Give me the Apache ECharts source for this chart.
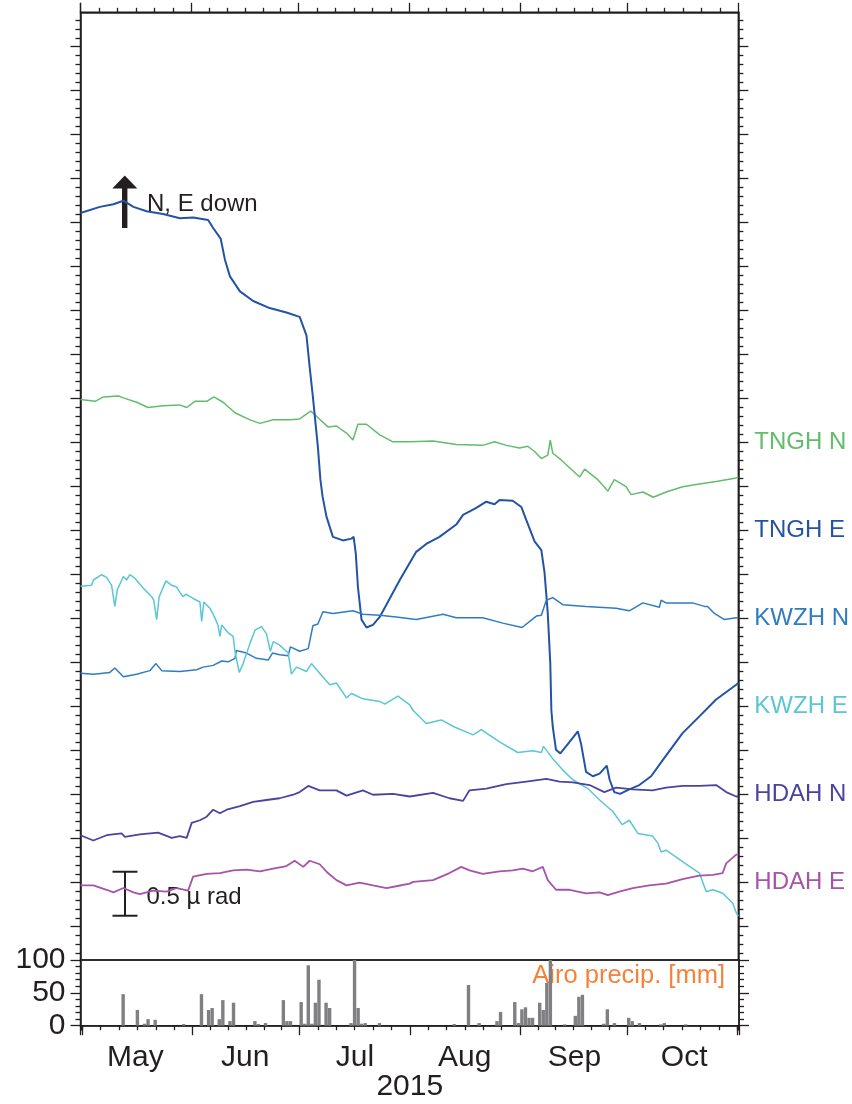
<!DOCTYPE html>
<html><head><meta charset="utf-8">
<script src="https://cdn.jsdelivr.net/npm/echarts@6/dist/echarts.min.js"></script>
<style>html,body{margin:0;padding:0;background:#fff}#c{width:852px;height:1104px}</style>
</head><body><div id="c"></div>
<script>
const FONT = '"Liberation Sans", Arial, Helvetica, sans-serif';
const INK = '#231f20';

// ---- tilt series: [days since 2015-05-01, tilt in micro-radian (offset per station)] ----
const tnghN = [[0,5.99],[4.1,5.97],[6.4,6.02],[10.6,6.03],[12,6.01],[15.7,5.96],[18.9,5.90],[23.1,5.92],[27.8,5.93],[29.7,5.90],[32,5.97],[35.3,5.97],[37.3,6.02],[39.9,5.96],[43.2,5.84],[47.4,5.76],[50.2,5.72],[53.9,5.76],[58.6,5.76],[61.3,5.77],[64.4,5.86],[66,5.80],[69.2,5.68],[71.6,5.69],[74.4,5.61],[76.2,5.53],[77.6,5.71],[80,5.71],[83.7,5.59],[87.4,5.51],[92.1,5.51],[98.6,5.52],[105.1,5.48],[112.5,5.47],[115.8,5.51],[119.1,5.47],[122.8,5.44],[125.1,5.46],[127,5.40],[128.9,5.32],[130.7,5.36],[131.4,5.53],[132.1,5.38],[134,5.32],[139.6,5.11],[141,5.20],[144.7,5.08],[147.5,4.95],[149.3,5.08],[152.6,5.00],[154,4.91],[157.3,4.94],[160.2,4.88],[163.8,4.94],[168.4,5.00],[173.1,5.03],[177.8,5.06],[183.4,5.10],[184,5.11]];
const tnghE = [[0,8.11],[5.4,8.18],[9.2,8.21],[12,8.25],[14.8,8.18],[18.5,8.13],[23.1,8.10],[27.8,8.05],[31.5,8.06],[35.7,8.03],[37.1,7.94],[39.2,7.82],[40.4,7.58],[41.8,7.39],[44.6,7.22],[48.3,7.11],[52.9,7.03],[57.6,6.98],[61.3,6.93],[63.2,6.72],[64.1,6.36],[65,6.02],[66.4,5.45],[67.1,5.08],[67.7,4.89],[68.8,4.66],[70.6,4.43],[73.4,4.39],[75.8,4.41],[76.4,4.43],[77,4.24],[77.6,3.86],[78.6,3.49],[80,3.40],[81.8,3.43],[83.7,3.52],[86.5,3.73],[89.3,3.94],[93.9,4.26],[96.7,4.35],[100.4,4.43],[105.1,4.57],[107,4.68],[110.7,4.76],[113.5,4.83],[115.8,4.80],[117.2,4.85],[120.9,4.84],[123.3,4.77],[124.7,4.62],[127,4.38],[128.9,4.28],[129.8,4.02],[130.7,3.56],[131.4,2.99],[131.7,2.46],[132.1,2.27],[133,2.01],[134.2,1.97],[136.8,2.10],[139.1,2.22],[140,2.08],[141.4,1.76],[143.3,1.71],[145.2,1.74],[147.2,1.83],[148,1.67],[149.3,1.53],[150.9,1.51],[153.5,1.56],[156.3,1.61],[159.6,1.71],[162.8,1.89],[168.4,2.20],[173.1,2.39],[177.7,2.58],[183.4,2.75],[184,2.77]];
const kwzhN = [[0,2.88],[3.7,2.87],[8.2,2.89],[9.6,2.94],[12,2.84],[15.7,2.87],[19.4,2.91],[21.1,2.99],[22.7,2.91],[27.8,2.90],[32.5,2.92],[34.3,2.95],[37.1,2.97],[39.5,3.02],[41.3,3.01],[43.2,3.05],[43.6,3.14],[46.4,3.11],[49.2,3.05],[52.5,3.03],[53.7,3.11],[55.7,3.09],[58.1,3.08],[58.7,3.18],[61.3,3.13],[63.7,3.16],[65,3.42],[66.4,3.44],[67.8,3.58],[70.6,3.56],[76.2,3.59],[79,3.55],[83.7,3.54],[88.3,3.52],[93.9,3.49],[101.4,3.55],[105.1,3.51],[112.5,3.51],[118.1,3.45],[123.5,3.40],[127.5,3.53],[128.9,3.54],[130.3,3.71],[132.1,3.74],[134.9,3.66],[141.4,3.64],[149.8,3.62],[153.5,3.59],[157.3,3.68],[161.9,3.63],[162.4,3.71],[163.8,3.68],[171.2,3.68],[174.5,3.64],[175.4,3.64],[177.3,3.56],[180.1,3.49],[183.4,3.51],[184,3.51]];
const kwzhE = [[0,3.87],[3.1,3.88],[3.6,3.94],[5.9,4.00],[7.3,3.97],[8.7,3.88],[9.6,3.64],[10.3,3.83],[12,3.98],[12.9,3.94],[13.8,4.00],[15.2,3.96],[17.5,3.85],[19.9,3.75],[20.5,3.71],[21.3,3.49],[22,3.75],[23.9,3.93],[25.5,3.88],[26.9,3.86],[27.8,3.80],[28.7,3.75],[29.5,3.78],[31.5,3.73],[33.4,3.69],[33.9,3.47],[34.5,3.69],[36.2,3.62],[37.6,3.51],[38.5,3.42],[39,3.30],[39.5,3.43],[41.3,3.34],[42.7,3.30],[43.2,3.13],[44.4,2.89],[45.5,2.99],[47.4,3.22],[48.8,3.37],[50.6,3.41],[52,3.33],[53.1,3.13],[53.9,3.24],[55.7,3.20],[58.1,3.11],[59,2.87],[60.4,2.95],[63.2,2.90],[64.6,2.99],[66.9,2.88],[69.7,2.75],[71.6,2.77],[74.4,2.60],[75.8,2.65],[79,2.59],[83.7,2.56],[85.1,2.53],[88.8,2.62],[92.1,2.52],[93,2.46],[96.7,2.31],[100.9,2.35],[104.6,2.27],[109.8,2.18],[112.1,2.24],[117.2,2.10],[122.3,1.98],[126.5,2.00],[128.9,1.98],[129.5,2.05],[132.1,1.91],[134.9,1.78],[137.7,1.67],[141.9,1.57],[145.2,1.44],[148.9,1.31],[151.5,1.16],[153.5,1.21],[155.9,1.06],[160,1.03],[161.5,0.95],[162.4,0.85],[163.8,0.87],[168.4,0.74],[173.1,0.61],[175,0.40],[176.9,0.42],[179.6,0.38],[182.4,0.27],[183.5,0.15],[184,0.12]];
const hdahN = [[0,1.04],[3.6,0.98],[7.3,1.04],[11.5,1.06],[12.4,1.02],[16.6,1.05],[21.7,1.07],[25.5,1.01],[27.8,1.03],[29.7,1.01],[31.1,1.18],[33.4,1.21],[35.3,1.25],[37.1,1.33],[39,1.29],[40.9,1.33],[44.6,1.37],[48.3,1.42],[52,1.44],[55.7,1.46],[59.5,1.50],[61.3,1.53],[63.7,1.60],[66.9,1.55],[71.6,1.55],[74.4,1.49],[79,1.55],[81.8,1.50],[87.4,1.51],[92.1,1.48],[98.6,1.52],[103.2,1.46],[107,1.43],[108.8,1.55],[113.5,1.57],[119.1,1.62],[124.7,1.65],[130.3,1.68],[134,1.65],[137.7,1.64],[142.4,1.61],[146.5,1.53],[149.8,1.58],[154.5,1.56],[160,1.55],[163.8,1.58],[168.4,1.60],[173.1,1.60],[177.8,1.61],[180.6,1.53],[183.4,1.48],[184,1.48]];
const hdahE = [[0,0.47],[3.6,0.47],[7.3,0.42],[9.2,0.39],[12,0.44],[14.8,0.39],[16.6,0.37],[20.3,0.41],[24.1,0.40],[26.9,0.44],[30.1,0.41],[31.5,0.57],[35.3,0.60],[39,0.61],[42.7,0.64],[46.4,0.65],[50.2,0.63],[53.9,0.66],[57.6,0.69],[59.9,0.75],[62.3,0.68],[64.1,0.75],[66.9,0.71],[69.2,0.61],[71.6,0.53],[74.4,0.47],[78.1,0.50],[81.8,0.47],[85.6,0.44],[88.3,0.46],[92.1,0.49],[93,0.51],[98.6,0.53],[103.2,0.61],[106.5,0.68],[108.8,0.64],[112.5,0.60],[117.2,0.63],[120.9,0.64],[123.7,0.66],[126.5,0.63],[129.3,0.68],[130.7,0.53],[133,0.42],[136.8,0.42],[141.4,0.38],[145.2,0.39],[147.5,0.36],[150.7,0.40],[154.5,0.44],[159.1,0.47],[163.8,0.49],[168.4,0.54],[173.1,0.58],[176.9,0.59],[179.6,0.61],[180.6,0.72],[183.4,0.82],[184,0.82]];

const stationNames  = ['TNGH N', 'TNGH E', 'KWZH N', 'KWZH E', 'HDAH N', 'HDAH E'];
const stationLevels = [5.5, 4.5, 3.5, 2.5, 1.5, 0.5];
const stationColors = ['#62bd6b', '#2353a5', '#2f7cc2', '#5ac6d6', '#4a44a0', '#a653a8'];
const stationData   = [tnghN, tnghE, kwzhN, kwzhE, hdahN, hdahE];
const stationWidths = [1.5, 2, 1.5, 1.5, 1.8, 1.8];

// ---- daily precipitation at Airo (mm) ----
const precipDates = ['05-12','05-16','05-18','05-19','05-21','05-29','06-03','06-05','06-06','06-08','06-09','06-11','06-12','06-18','06-19','06-21','06-26','06-27','06-28','07-01','07-02','07-03','07-04','07-05','07-06','07-08','07-09','07-15','07-16','07-17','07-18','07-19','07-23','08-13','08-17','08-20','08-25','08-26','08-30','08-31','09-01','09-02','09-03','09-04','09-06','09-07','09-08','09-09','09-13','09-16','09-17','09-18','09-24','09-25','09-27','10-01','10-02','10-04','10-10','10-11','10-17'];
const precipMm    = [48,24,3,10,9,2.5,48,24,27,10,39,7,35,7,2.5,4,39,7,7,36,3,92,3,35,70,35,27,4,100,27,3,4,4,2.5,62,4,7,21,36,4,25,28,12,12,35,24,65,100,2,15,44,47,3,25,4,12,7,4,2,4,2];

const monthLabels = ['May', 'Jun', 'Jul', 'Aug', 'Sep', 'Oct'];
const yearLabel = '2015';
const precipTicks = [0, 50, 100];

// axis extents
const T0 = new Date(2015, 4, 1).getTime();
const T1 = new Date(2015, 10, 1).getTime();
const DAY = 86400000;
const yMin = -0.378, yMax = 10.391;
const majorTicks = []; for (let k = 0; k <= 20; k++) majorTicks.push(k * 0.5);
const minorTicks = []; for (let k = -3; k <= 103; k++) if (k % 5 !== 0) minorTicks.push(+(k * 0.1).toFixed(1));

const toXY = arr => arr.map(p => [T0 + p[0] * DAY, p[1]]);
const precipData = precipDates.map((d, i) => [new Date('2015-' + d + 'T12:00:00').getTime(), precipMm[i]]);

const tickLine = { color: INK, width: 1.3 };
function timeAxis(grid, pos) {
  return {
    gridIndex: grid, type: 'time', position: pos, min: T0, max: T1, splitNumber: 6,
    axisLine: { show: true, onZero: false, lineStyle: { color: INK, width: 1.5 } },
    axisTick: { show: true, inside: false, length: 9.5, lineStyle: tickLine },
    minorTick: { show: true, splitNumber: 6, length: 4.5, lineStyle: tickLine },
    axisLabel: { show: false }, splitLine: { show: false }, minorSplitLine: { show: false }
  };
}
function tiltAxis(pos, custom, len, withLine, label) {
  return {
    gridIndex: 0, type: 'value', position: pos, min: yMin, max: yMax,
    axisLine: { show: withLine, onZero: false, lineStyle: { color: INK, width: 1.5 } },
    axisTick: { show: true, inside: false, length: len, customValues: custom, lineStyle: tickLine },
    axisLabel: label || { show: false },
    splitLine: { show: false }
  };
}
const rich = {};
stationNames.forEach((n, i) => { rich['s' + i] = { color: stationColors[i], fontSize: 24, fontFamily: FONT }; });
const stationLabel = {
  show: true, customValues: stationLevels, margin: 16,
  formatter: v => {
    for (let i = 0; i < stationLevels.length; i++) if (Math.abs(v - stationLevels[i]) < 1e-6) return '{s' + i + '|' + stationNames[i] + '}';
    return '';
  },
  rich: rich
};
function precipAxis(pos, showLabel) {
  return {
    gridIndex: 1, type: 'value', position: pos, min: 0, max: 100, interval: 50,
    axisLine: { show: true, onZero: false, lineStyle: { color: INK, width: 1.5 } },
    axisTick: { show: true, inside: false, length: 10, lineStyle: tickLine },
    minorTick: { show: true, splitNumber: 5, length: 5, lineStyle: tickLine },
    axisLabel: { show: showLabel, customValues: precipTicks, fontSize: 30, color: INK, fontFamily: FONT, margin: 15 },
    splitLine: { show: false }, minorSplitLine: { show: false }
  };
}

const series = stationData.map((d, i) => ({
  name: stationNames[i], type: 'line', xAxisIndex: 0, yAxisIndex: 0,
  data: toXY(d), showSymbol: false, symbol: 'none', z: 3,
  lineStyle: { color: stationColors[i], width: stationWidths[i] },
  itemStyle: { color: stationColors[i] }
}));
series.push({
  name: 'precip', type: 'bar', xAxisIndex: 1, yAxisIndex: 4, data: precipData,
  barWidth: 3.4, itemStyle: { color: '#808083' }, z: 5
});

const option = {
  animation: false,
  backgroundColor: '#ffffff',
  textStyle: { fontFamily: FONT },
  grid: [
    { left: 80.5, width: 658.5, top: 12.3, height: 947.7, show: true, borderColor: INK, borderWidth: 1.5, backgroundColor: 'transparent' },
    { left: 80.5, width: 658.5, top: 960, height: 65.7, show: true, borderColor: INK, borderWidth: 1.5, backgroundColor: 'transparent' }
  ],
  xAxis: [
    timeAxis(0, 'top'),
    timeAxis(1, 'bottom'),
    {
      gridIndex: 1, type: 'category', position: 'bottom', data: monthLabels, boundaryGap: true,
      axisLine: { show: false, onZero: false }, axisTick: { show: false },
      axisLabel: { show: true, fontSize: 30, color: INK, fontFamily: FONT, margin: 17, interval: 0 },
      splitLine: { show: false }
    }
  ],
  yAxis: [
    tiltAxis('left', majorTicks, 10, true),
    tiltAxis('left', minorTicks, 5, false),
    tiltAxis('right', majorTicks, 10, true, stationLabel),
    tiltAxis('right', minorTicks, 5, false),
    precipAxis('left', true),
    precipAxis('right', false)
  ],
  series: series
};

const chart = echarts.init(document.getElementById('c'), null, { renderer: 'canvas' });
chart.setOption(option);

// annotations
const scaleFrom = 0.125, scaleLen = 0.5;
const yb0 = chart.convertToPixel({ yAxisIndex: 0 }, scaleFrom);
const yb1 = chart.convertToPixel({ yAxisIndex: 0 }, scaleFrom + scaleLen);
const xb = 125;
const textStyle = (t, x, y, size, color, align) => ({
  type: 'text', z: 1,
  style: { text: t, x: x, y: y, font: size + 'px ' + FONT, fill: color, align: align, textAlign: align, verticalAlign: 'middle', textVerticalAlign: 'middle' }
});
chart.setOption({
  graphic: [
    { type: 'polygon', z: 1, shape: { points: [[112.3, 188.5], [137.3, 188.5], [124.8, 175.5]] }, style: { fill: INK } },
    { type: 'rect', z: 1, shape: { x: 122, y: 187, width: 5.4, height: 41 }, style: { fill: INK } },
    textStyle('N, E down', 147, 204, 24, INK, 'left'),
    { type: 'line', z: 1, shape: { x1: xb, y1: yb0, x2: xb, y2: yb1 }, style: { stroke: INK, lineWidth: 2 } },
    { type: 'line', z: 1, shape: { x1: xb - 12.5, y1: yb0, x2: xb + 12.5, y2: yb0 }, style: { stroke: INK, lineWidth: 2 } },
    { type: 'line', z: 1, shape: { x1: xb - 12.5, y1: yb1, x2: xb + 12.5, y2: yb1 }, style: { stroke: INK, lineWidth: 2 } },
    textStyle('0.5 \u00b5 rad', 146.5, 897, 24, INK, 'left'),
    textStyle('Airo precip. [mm]', 725, 976, 25.5, '#f5823a', 'right'),
    textStyle(yearLabel, 409.75, 1087, 30, INK, 'center')
  ]
});
</script></body></html>
